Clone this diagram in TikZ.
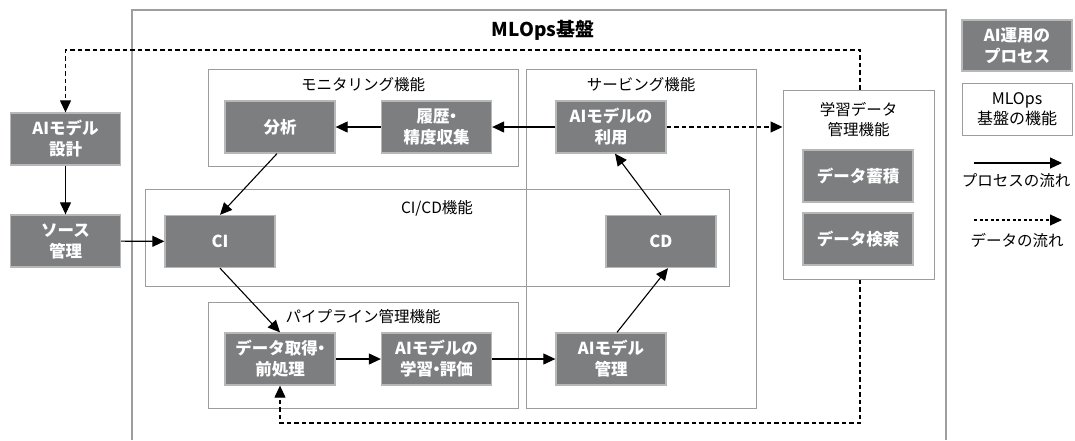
\documentclass[tikz,border=0pt]{standalone}
\usepackage{fontspec}
\setmainfont{Noto Sans CJK JP}
\usetikzlibrary{arrows.meta}
\definecolor{procfill}{HTML}{7D7E80}
\definecolor{procedge}{HTML}{B8B8B8}
\definecolor{grpline}{HTML}{9C9C9C}
\definecolor{outerline}{HTML}{9E9E9E}
\newcommand{\nkt}{\kern-.3em・\kern-.3em}
\tikzset{
  proc/.style={rectangle, fill=procfill, draw=procedge, line width=1.3pt, text=white,
    font=\bfseries\fontsize{16.5}{21}\selectfont, align=center, inner sep=0pt,
    minimum width=110pt, minimum height=52pt},
  grp/.style={rectangle, draw=grpline, line width=1pt, inner sep=0pt},
  grplabel/.style={font=\fontsize{15.5}{20}\selectfont, align=center, inner sep=0pt},
  flow/.style={line width=1.1pt, -{Triangle[length=12pt,width=11pt]}},
  dflow/.style={line width=1.2pt, dash pattern=on 4.5pt off 3pt, -{Triangle[length=12pt,width=11pt]}},
}
\begin{document}
\begin{tikzpicture}[x=1pt,y=-1pt]
\useasboundingbox (0,0) rectangle (1075,440);
% outer MLOps frame (open at bottom)
\draw[outerline, line width=2.4pt] (132,440) -- (132,10) -- (946,10) -- (946,440);
\node[font=\bfseries\fontsize{19}{22}\selectfont, inner sep=0pt] (title) at (543,30) {MLOps基盤};
% containers
\node[grp, minimum width=230pt, minimum height=339pt] (serv) at (641,238.5) {};
\node[grp, minimum width=584pt, minimum height=97pt] (cicd) at (437,237.5) {};
\node[grp, fill=white, minimum width=310pt, minimum height=97pt] (mon) at (363,117.5) {};
\node[grp, fill=white, minimum width=310pt, minimum height=106pt] (pipe) at (363,355) {};
\node[grp, minimum width=151pt, minimum height=189pt] (learn) at (858.5,184.5) {};
\node[grplabel] (monl) at (363,85) {モニタリング機能};
\node[grplabel] (servl) at (641,85) {サービング機能};
\node[grplabel] (cicdl) at (437,208) {CI/CD機能};
\node[grplabel] (pipel) at (363,317) {パイプライン管理機能};
\node[grplabel] (learnl) at (858.5,120) {学習データ\\管理機能};
% process nodes
\node[proc] (design) at (65.5,139) {AIモデル\\設計};
\node[proc] (source) at (65.5,241) {ソース\\管理};
\node[proc] (bunseki) at (280,127) {分析};
\node[proc] (rireki) at (436.5,127) {履歴\nkt\\精度収集};
\node[proc] (riyou) at (611,127) {AIモデルの\\利用};
\node[proc] (ci) at (220,241.5) {CI};
\node[proc] (cd) at (661,241.5) {CD};
\node[proc] (prep) at (280,359) {データ取得\nkt\\前処理};
\node[proc] (train) at (436.5,359) {AIモデルの\\学習\nkt 評価};
\node[proc] (mgmt) at (611,359) {AIモデル\\管理};
\node[proc] (chiku) at (858,176) {データ蓄積};
\node[proc] (kensaku) at (858,239) {データ検索};
% process flows
\draw[flow] (design) -- (source);
\draw[flow] (source) -- (ci);
\draw[flow] (riyou) -- (rireki);
\draw[flow] (rireki) -- (bunseki);
\draw[flow] ([xshift=-3pt]bunseki.south) -- (ci.north);
\draw[flow] (ci.south) -- (prep.north);
\draw[flow] (prep) -- (train);
\draw[flow] (train) -- (mgmt);
\draw[flow] ([xshift=6pt]mgmt.north) -- ([xshift=7pt]cd.south);
\draw[flow] (cd.north) -- ([xshift=4pt]riyou.south);
% data flows
\coordinate (topy) at (0,50);
\coordinate (boty) at (0,423);
\draw[dflow] ([xshift=1.5pt]learn.north) -- ([xshift=1.5pt]learn.north |- topy) -| (design.north);
\draw[dflow] (riyou.east) -- (riyou.east -| learn.west);
\draw[dflow] ([xshift=1.5pt]learn.south) -- ([xshift=1.5pt]learn.south |- boty) -| (prep.south);
% legend
\node[proc, minimum height=51pt] (lgproc) at (1017,45.5) {AI運用の\\プロセス};
\node[grp, fill=white, minimum width=110pt, minimum height=52pt, font=\fontsize{16}{20}\selectfont, align=center] (lggrp) at (1017,109) {MLOps\\基盤の機能};
\coordinate (la1) at (974,163);
\coordinate (la2) at (1062,163);
\draw[flow] (la1) -- (la2);
\node[grplabel] (lt1) at (1016,181) {プロセスの流れ};
\coordinate (lb1) at (974,220);
\coordinate (lb2) at (1062,220);
\draw[line width=1.1pt, dash pattern=on 3pt off 2.5pt, -{Triangle[length=12pt,width=11pt]}] (lb1) -- (lb2);
\node[grplabel] (lt2) at (1017,240) {データの流れ};
\end{tikzpicture}
\end{document}
